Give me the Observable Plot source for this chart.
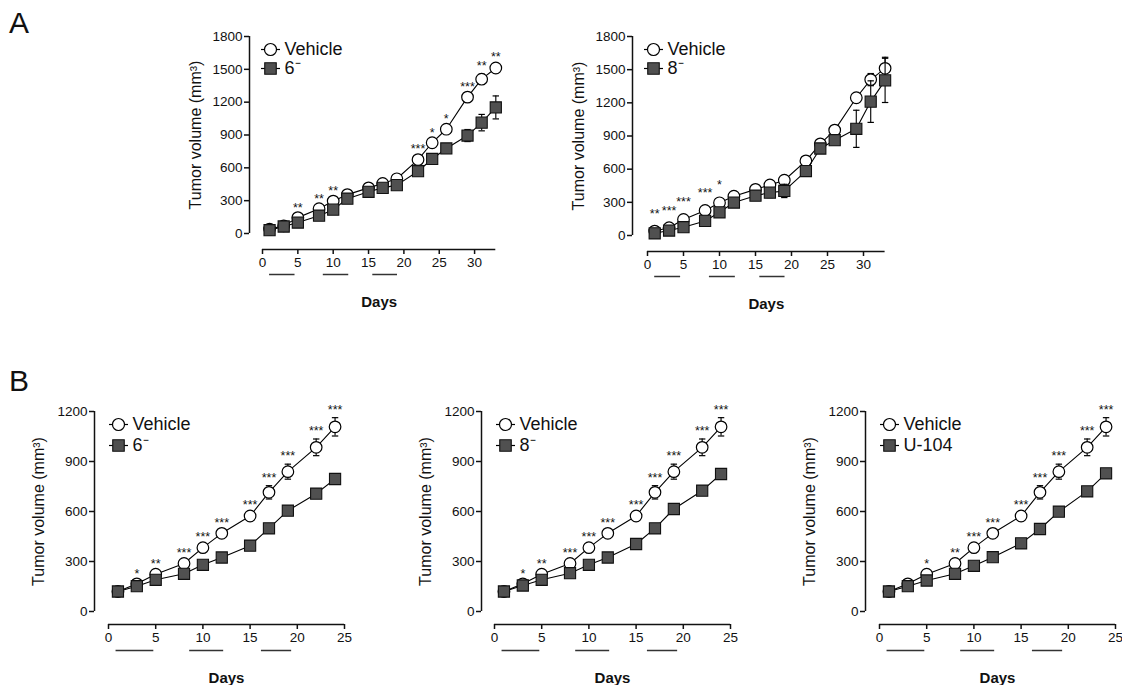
<!DOCTYPE html>
<html><head><meta charset="utf-8">
<script src="https://cdn.jsdelivr.net/npm/d3@7"></script>
<script src="https://cdn.jsdelivr.net/npm/@observablehq/plot@0.6"></script>
<style>
body{margin:0;background:#fff;}
#page{position:relative;width:1122px;height:685px;overflow:hidden;font-family:"Liberation Sans",Arial,sans-serif;color:#111;}
.panel{position:absolute;}
.tag{position:absolute;font-size:30px;line-height:1;}
</style></head><body><div id="page"></div>
<script>
// ---------- data ----------
const daysA = [1, 3, 5, 8, 10, 12, 15, 17, 19, 22, 24, 26, 29, 31, 33];
const vehicleA = [40, 70, 145, 227, 296, 355, 417, 457, 500, 675, 829, 953, 1246, 1410, 1512];
const vehicleErrA1 = [10, 12, 15, 15, 15, 15, 15, 15, 15, 20, 20, 20, 20, 45, 30];
const vehicleErrA2 = [10, 10, 15, 15, 15, 15, 15, 15, 15, 20, 20, 20, 25, 55, 100];
const sixA = [30, 64, 100, 163, 218, 318, 381, 417, 442, 569, 681, 777, 895, 1013, 1152];
const sixErrA = [10, 10, 12, 15, 15, 15, 20, 20, 20, 25, 30, 40, 55, 75, 105];
const eightA = [20, 45, 75, 132, 210, 298, 360, 388, 403, 583, 787, 862, 965, 1211, 1403];
const eightErrA = [10, 10, 12, 15, 15, 15, 30, 45, 60, 25, 30, 30, 168, 188, 200];
const starsA1 = ["", "", "**", "**", "**", "", "", "", "", "***", "*", "*", "***", "**", "**"];
const starsA2 = ["**", "***", "***", "***", "*", "", "", "", "", "", "", "", "", "", ""];
const periodsA = [[1, 4.6], [8.6, 12.2], [15.6, 19.1]];
const xticksA = [0, 5, 10, 15, 20, 25, 30];
const yticksA = [0, 300, 600, 900, 1200, 1500, 1800];

const daysB = [1, 3, 5, 8, 10, 12, 15, 17, 19, 22, 24];
const vehicleB = [120, 166, 224, 288, 383, 469, 573, 715, 839, 985, 1108];
const vehicleErrB = [10, 12, 12, 15, 15, 15, 20, 40, 45, 50, 55];
const sixB = [120, 152, 190, 226, 280, 324, 395, 499, 605, 707, 795];
const sixErrB = [8, 8, 8, 10, 10, 10, 10, 10, 12, 15, 25];
const eightB = [120, 156, 190, 230, 280, 324, 405, 499, 615, 725, 825];
const eightErrB = [8, 8, 8, 10, 10, 10, 10, 10, 12, 15, 25];
const u104B = [120, 152, 186, 226, 274, 326, 409, 495, 599, 721, 829];
const u104ErrB = [8, 8, 8, 10, 10, 10, 10, 10, 12, 15, 20];
const starsB = ["", "*", "**", "***", "***", "***", "***", "***", "***", "***", "***"];
const starsU = ["", "", "*", "**", "***", "***", "***", "***", "***", "***", "***"];
const periodsB = [[0.8, 4.8], [8.6, 12.2], [16.2, 19.4]];
const xticksB = [0, 5, 10, 15, 20, 25];
const yticksB = [0, 300, 600, 900, 1200];

const yLabel = "Tumor volume (mm³)";
const xLabel = "Days";

// ---------- drawing ----------
const hline = {draw(ctx, size) { const r = Math.sqrt(size / Math.PI); ctx.moveTo(-r, 0); ctx.lineTo(r, 0); }};
const page = document.getElementById("page");

function panel(c) {
  const pxPerDay = (c.endPx - c.zeroPx) / c.xmax;
  const xmin = -(c.zeroPx - c.axisPx) / pxPerDay;
  const pxPerY = (c.yZeroPx - c.yTopPx) / c.ymax;
  const ymin = -(c.xAxisPx - c.yZeroPx) / pxPerY;
  const rows = c.days.map((d, i) => ({day: d, v: c.vehicle[i], ve: c.vehErr[i], t: c.treat[i], te: c.treatErr[i], s: c.stars[i]}));
  const L = c.legend;
  const svg = Plot.plot({
    width: c.width, height: c.height,
    marginLeft: c.axisPx - c.left,
    marginRight: c.left + c.width - c.endPx,
    marginTop: c.yTopPx - c.top,
    marginBottom: c.top + c.height - c.xAxisPx,
    x: {domain: [xmin, c.xmax]},
    y: {domain: [ymin, c.ymax]},
    style: {fontFamily: '"Liberation Sans", Arial, sans-serif', fontSize: "13px", color: "#111", background: "transparent", overflow: "visible"},
    marks: [
      Plot.axisX(c.xticks, {anchor: "bottom", tickSize: 5, tickPadding: 3, strokeWidth: 1.5, fontSize: 13.5, label: null, tickFormat: d => String(d)}),
      Plot.axisY(c.yticks, {anchor: "left", tickSize: 5, tickPadding: 2, strokeWidth: 1.5, fontSize: 13.5, label: null, tickFormat: d => String(d)}),
      Plot.ruleX([xmin], {y1: 0, y2: c.ymax, strokeWidth: 1.5}),
      Plot.ruleY([ymin], {x1: 0, x2: c.xmax, strokeWidth: 1.5}),
      Plot.ruleY(c.periods, {x1: d => d[0], x2: d => d[1], y: ymin, dy: c.barDy, stroke: "#333", strokeWidth: 1.5}),
      Plot.text([yLabel], {x: xmin, y: c.ymax / 2, rotate: -90, dx: c.yLabelDx, fontSize: 16, text: d => d}),
      Plot.text([xLabel], {x: c.xmax / 2, y: ymin, dy: c.xLabelDy, fontSize: 15, fontWeight: "bold", text: d => d}),
      // vehicle
      Plot.line(rows, {x: "day", y: "v", stroke: "#000", strokeWidth: 1.1}),
      Plot.ruleX(rows, {x: "day", y1: d => d.v - d.ve, y2: d => d.v + d.ve, strokeWidth: 1.2}),
      Plot.dot(rows, {x: "day", y: d => d.v + d.ve, symbol: hline, r: 3.2, stroke: "#000", fill: "none", strokeWidth: 1.2}),
      Plot.dot(rows, {x: "day", y: d => d.v - d.ve, symbol: hline, r: 3.2, stroke: "#000", fill: "none", strokeWidth: 1.2}),
      Plot.dot(rows, {x: "day", y: "v", r: 5.8, fill: "#fff", stroke: "#000", strokeWidth: 1.2}),
      // treatment
      Plot.line(rows, {x: "day", y: "t", stroke: "#000", strokeWidth: 1.1}),
      Plot.ruleX(rows, {x: "day", y1: d => d.t - d.te, y2: d => d.t + d.te, strokeWidth: 1.2}),
      Plot.dot(rows, {x: "day", y: d => d.t + d.te, symbol: hline, r: 3.2, stroke: "#000", fill: "none", strokeWidth: 1.2}),
      Plot.dot(rows, {x: "day", y: d => d.t - d.te, symbol: hline, r: 3.2, stroke: "#000", fill: "none", strokeWidth: 1.2}),
      Plot.dot(rows, {x: "day", y: "t", symbol: "square", r: 6.3, fill: "#505050", stroke: "#111", strokeWidth: 1.1}),
      // significance
      Plot.text(rows.filter(d => d.s), {x: "day", y: d => d.v + d.ve, text: "s", dy: c.starDy, fontSize: 12.5}),
      // legend
      Plot.dot([0], {frameAnchor: "top-left", dx: L.mx, dy: L.r1, symbol: hline, r: 9.5, stroke: "#000", fill: "none", strokeWidth: 1.2}),
      Plot.dot([0], {frameAnchor: "top-left", dx: L.mx, dy: L.r1, r: 6, fill: "#fff", stroke: "#000", strokeWidth: 1.2}),
      Plot.text(["Vehicle"], {frameAnchor: "top-left", dx: L.tx, dy: L.r1, textAnchor: "start", lineAnchor: "middle", fontSize: 18, text: d => d}),
      Plot.dot([0], {frameAnchor: "top-left", dx: L.mx, dy: L.r2, symbol: hline, r: 9.5, stroke: "#000", fill: "none", strokeWidth: 1.2}),
      Plot.dot([0], {frameAnchor: "top-left", dx: L.mx, dy: L.r2, symbol: "square", r: 6.5, fill: "#505050", stroke: "#111", strokeWidth: 1.1}),
      Plot.text([c.treatLabel], {frameAnchor: "top-left", dx: L.tx, dy: L.r2, textAnchor: "start", lineAnchor: "middle", fontSize: 18, text: d => d})
    ]
  });
  const div = document.createElement("div");
  div.className = "panel";
  div.style.left = c.left + "px";
  div.style.top = c.top + "px";
  div.appendChild(svg);
  page.appendChild(div);
}

function tag(t, left, top) {
  const d = document.createElement("div");
  d.className = "tag"; d.textContent = t;
  d.style.left = left + "px"; d.style.top = top + "px";
  page.appendChild(d);
}

const legA = {mx: 21, tx: 35, r1: 13, r2: 32};
const legB = {mx: 24, tx: 38, r1: 13, r2: 34};
const baseA = {top: 16, height: 300, xmax: 33, yTopPx: 36, ymax: 1800, xticks: xticksA, yticks: yticksA, days: daysA, vehicle: vehicleA, periods: periodsA, barDy: 25, xLabelDy: 53, yLabelDx: -54, legend: legA};
const baseB = {top: 395, height: 290, xmax: 25, yTopPx: 411, yZeroPx: 611, xAxisPx: 624, ymax: 1200, xticks: xticksB, yticks: yticksB, days: daysB, vehicle: vehicleB, vehErr: vehicleErrB, periods: periodsB, barDy: 26, xLabelDy: 54, yLabelDx: -56, legend: legB, starDy: -8};

panel({...baseA, left: 140, width: 380, axisPx: 249, zeroPx: 262, endPx: 495.3, yZeroPx: 233, xAxisPx: 249, vehErr: vehicleErrA1, treat: sixA, treatErr: sixErrA, stars: starsA1, treatLabel: "6⁻", starDy: -8});
panel({...baseA, left: 520, width: 390, axisPx: 632, zeroPx: 647, endPx: 884.6, yZeroPx: 235, xAxisPx: 251, vehErr: vehicleErrA2, treat: eightA, treatErr: eightErrA, stars: starsA2, treatLabel: "8⁻", starDy: -16});
panel({...baseB, left: 0, width: 370, axisPx: 94, zeroPx: 108, endPx: 344, treat: sixB, treatErr: sixErrB, stars: starsB, treatLabel: "6⁻"});
panel({...baseB, left: 390, width: 370, axisPx: 481, zeroPx: 494, endPx: 730, treat: eightB, treatErr: eightErrB, stars: starsB, treatLabel: "8⁻"});
panel({...baseB, left: 770, width: 352, axisPx: 865, zeroPx: 879, endPx: 1115, treat: u104B, treatErr: u104ErrB, stars: starsU, treatLabel: "U-104"});

tag("A", 9, 8);
tag("B", 9, 366);
</script>
</body></html>
